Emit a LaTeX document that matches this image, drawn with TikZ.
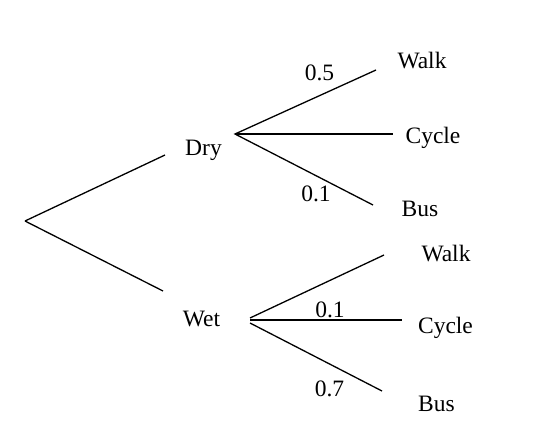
\documentclass[tikz,border=0pt]{standalone}
\usepackage{fontspec}
\setmainfont{Liberation Serif}
\begin{document}
\begin{tikzpicture}[x=1pt,y=-1pt,
  lbl/.style={font=\fontsize{23.5}{27}\selectfont, inner sep=0pt, anchor=base},
  branch/.style={line width=1.3pt}]
\useasboundingbox (0,0) rectangle (548,445);
\fill[white] (0,0) rectangle (548,445);
% coordinates
\coordinate (root) at (25,221);
\coordinate (dryin) at (165,155);
\coordinate (wetin) at (163,291);
\coordinate (dryout) at (235,134);
\coordinate (dwalk) at (376,70);
\coordinate (dcycle) at (393,134);
\coordinate (dbus) at (373,205);
\coordinate (wetoutA) at (250,318);
\coordinate (wetoutB) at (250,320);
\coordinate (wetoutC) at (250,323);
\coordinate (wwalk) at (384,255);
\coordinate (wcycle) at (402,320);
\coordinate (wbus) at (382,391);
% labels
\node[lbl] (dry) at (203.5,155) {Dry};
\node[lbl] (wet) at (201.5,326.7) {Wet};
\node[lbl] (tdwalk) at (422,68.3) {Walk};
\node[lbl] (tdcycle) at (433,143.3) {Cycle};
\node[lbl] (tdbus) at (420,216) {Bus};
\node[lbl] (twwalk) at (446,261.7) {Walk};
\node[lbl] (twcycle) at (445.5,333.3) {Cycle};
\node[lbl] (twbus) at (436.5,411.7) {Bus};
\node[lbl] (p1) at (319.5,80) {0.5};
\node[lbl] (p2) at (316,201.7) {0.1};
\node[lbl] (p3) at (330,317) {0.1};
\node[lbl] (p4) at (329.5,396.7) {0.7};
% branches
\draw[branch] (root) -- (dryin);
\draw[branch] (root) -- (wetin);
\draw[branch] (dwalk) -- (dryout) -- (dbus);
\draw[branch] (dryout) -- (dcycle);
\draw[branch] (wetoutA) -- (wwalk);
\draw[branch] (wetoutB) -- (wcycle);
\draw[branch] (wetoutC) -- (wbus);
\end{tikzpicture}
\end{document}
